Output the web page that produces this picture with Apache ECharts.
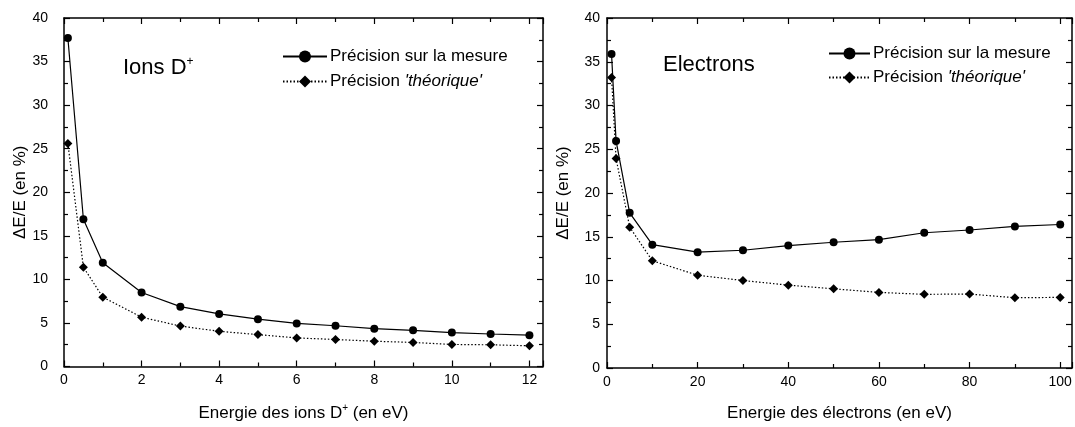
<!DOCTYPE html>
<html>
<head>
<meta charset="utf-8">
<script src="https://cdn.jsdelivr.net/npm/echarts@6/dist/echarts.min.js"></script>
<style>
html,body{margin:0;padding:0;background:#fff;}
#chart{width:1075px;height:427px;}
</style>
</head>
<body>
<div id="chart"></div>
<script>
// ---- Data ----
const ionsEnergy = [0.1, 0.5, 1, 2, 3, 4, 5, 6, 7, 8, 9, 10, 11, 12];
const ionsMesure = [37.7, 16.9, 11.9, 8.5, 6.87, 6.04, 5.43, 4.94, 4.68, 4.34, 4.15, 3.89, 3.73, 3.59];
const ionsTheorique = [25.6, 11.4, 7.96, 5.66, 4.64, 4.04, 3.66, 3.28, 3.1, 2.9, 2.76, 2.53, 2.49, 2.38];

const elecEnergy = [1, 2, 5, 10, 20, 30, 40, 50, 60, 70, 80, 90, 100];
const elecMesure = [35.9, 25.95, 17.73, 14.1, 13.24, 13.46, 13.99, 14.37, 14.67, 15.46, 15.77, 16.18, 16.4];
const elecTheorique = [33.2, 23.95, 16.1, 12.26, 10.6, 10.0, 9.47, 9.05, 8.64, 8.42, 8.45, 8.03, 8.07];

const yTicks = [0, 5, 10, 15, 20, 25, 30, 35, 40];
const seriesNames = ['Précision sur la mesure', "Précision 'théorique'"];

const FONT = "'Liberation Sans', Arial, Helvetica, sans-serif";
const BLACK = '#000';

function zip(xs, ys) { return xs.map((x, i) => [x, ys[i]]); }

function isMultiple(v, step) {
  const r = v / step;
  return Math.abs(r - Math.round(r)) < 1e-6;
}

function xAxisPair(gridIndex, max, interval, labelStep, nameText) {
  const common = {
    type: 'value', gridIndex, min: 0, max, interval,
    axisLine: { show: true, onZero: false, lineStyle: { color: BLACK, width: 1.5 } },
    axisTick: { show: true, inside: true, length: 6, lineStyle: { color: BLACK, width: 1.2 } },
    minorTick: { show: true, splitNumber: 2, length: 4, lineStyle: { color: BLACK, width: 1.2 } },
    splitLine: { show: false }
  };
  return [
    Object.assign({}, common, {
      position: 'bottom',
      axisLabel: {
        color: BLACK, fontFamily: FONT, fontSize: 14, margin: 7,
        formatter: v => isMultiple(v, labelStep) ? String(Math.round(v)) : ''
      },
      name: nameText, nameLocation: 'middle', nameGap: 37,
      nameTextStyle: {
        color: BLACK, fontFamily: FONT, fontSize: 17,
        rich: { sup: { fontSize: 10, fontFamily: FONT, color: BLACK, padding: [0, 0, 10, 0] } }
      }
    }),
    Object.assign({}, common, {
      position: 'top',
      axisLabel: { show: false }
    })
  ];
}

function yAxisPair(gridIndex, labelMargin, nameGap) {
  const common = {
    type: 'value', gridIndex, min: 0, max: 40, interval: 5,
    axisLine: { show: true, onZero: false, lineStyle: { color: BLACK, width: 1.5 } },
    axisTick: { show: true, inside: true, length: 6, lineStyle: { color: BLACK, width: 1.2 } },
    minorTick: { show: true, splitNumber: 2, length: 4, lineStyle: { color: BLACK, width: 1.2 } },
    splitLine: { show: false }
  };
  return [
    Object.assign({}, common, {
      position: 'left',
      axisLabel: {
        color: BLACK, fontFamily: FONT, fontSize: 14, margin: labelMargin,
        formatter: v => yTicks.indexOf(v) >= 0 ? String(v) : ''
      },
      name: 'ΔE/E (en %)', nameLocation: 'middle', nameGap: nameGap,
      nameTextStyle: { color: BLACK, fontFamily: FONT, fontSize: 17 }
    }),
    Object.assign({}, common, {
      position: 'right',
      axisLabel: { show: false }
    })
  ];
}

const xAxes = [].concat(
  xAxisPair(0, 12.35, 2, 2, 'Energie des ions D{sup|+} (en eV)'),
  xAxisPair(1, 102.6, 20, 20, 'Energie des électrons (en eV)')
);
const yAxes = [].concat(
  yAxisPair(0, 16, 31),
  yAxisPair(1, 7, 35)
);

function mesureSeries(xi, yi, data) {
  return {
    name: seriesNames[0], type: 'line', xAxisIndex: xi, yAxisIndex: yi,
    data, symbol: 'circle', symbolSize: 8,
    itemStyle: { color: BLACK },
    lineStyle: { color: BLACK, width: 1.2, type: 'solid' },
    animation: false, z: 3
  };
}
function theoSeries(xi, yi, data) {
  return {
    name: seriesNames[1], type: 'line', xAxisIndex: xi, yAxisIndex: yi,
    data, symbol: 'diamond', symbolSize: 9,
    itemStyle: { color: BLACK },
    lineStyle: { color: BLACK, width: 1.2, type: [1.5, 2] },
    animation: false, z: 3
  };
}

function legendFor(left, top, itemWidth, gap) {
  return {
    orient: 'vertical', left, top, itemWidth, itemHeight: 15, itemGap: gap,
    padding: 0,
    selectedMode: false,
    data: seriesNames,
    textStyle: {
      color: BLACK, fontFamily: FONT, fontSize: 17, padding: [0, 0, 0, -2],
      rich: { it: { fontStyle: 'italic', fontSize: 17, fontFamily: FONT, color: BLACK } }
    },
    formatter: n => n === seriesNames[1] ? "Précision {it|'théorique'}" : n
  };
}

const chart = echarts.init(document.getElementById('chart'), null, { renderer: 'canvas' });
chart.setOption({
  animation: false,
  backgroundColor: '#fff',
  grid: [
    { left: 64, top: 18, width: 479, height: 354, containLabel: false },
    { left: 607, top: 18, width: 468, height: 354, containLabel: false }
  ],
  xAxis: xAxes,
  yAxis: yAxes,
  legend: [
    legendFor(282, 48, 44, 8),
    legendFor(828, 45, 41, 7)
  ],
  title: [
    {
      text: 'Ions D{sup|+}', left: 118, top: 51,
      textStyle: {
        color: BLACK, fontFamily: FONT, fontSize: 22, fontWeight: 'normal',
        rich: { sup: { fontSize: 12, fontFamily: FONT, color: BLACK, padding: [0, 0, 12, 0] } }
      }
    },
    {
      text: 'Electrons', left: 658, top: 49,
      textStyle: { color: BLACK, fontFamily: FONT, fontSize: 22, fontWeight: 'normal' }
    }
  ],
  series: [
    mesureSeries(0, 0, zip(ionsEnergy, ionsMesure)),
    theoSeries(0, 0, zip(ionsEnergy, ionsTheorique)),
    mesureSeries(2, 2, zip(elecEnergy, elecMesure)),
    theoSeries(2, 2, zip(elecEnergy, elecTheorique))
  ]
});
</script>
</body>
</html>
